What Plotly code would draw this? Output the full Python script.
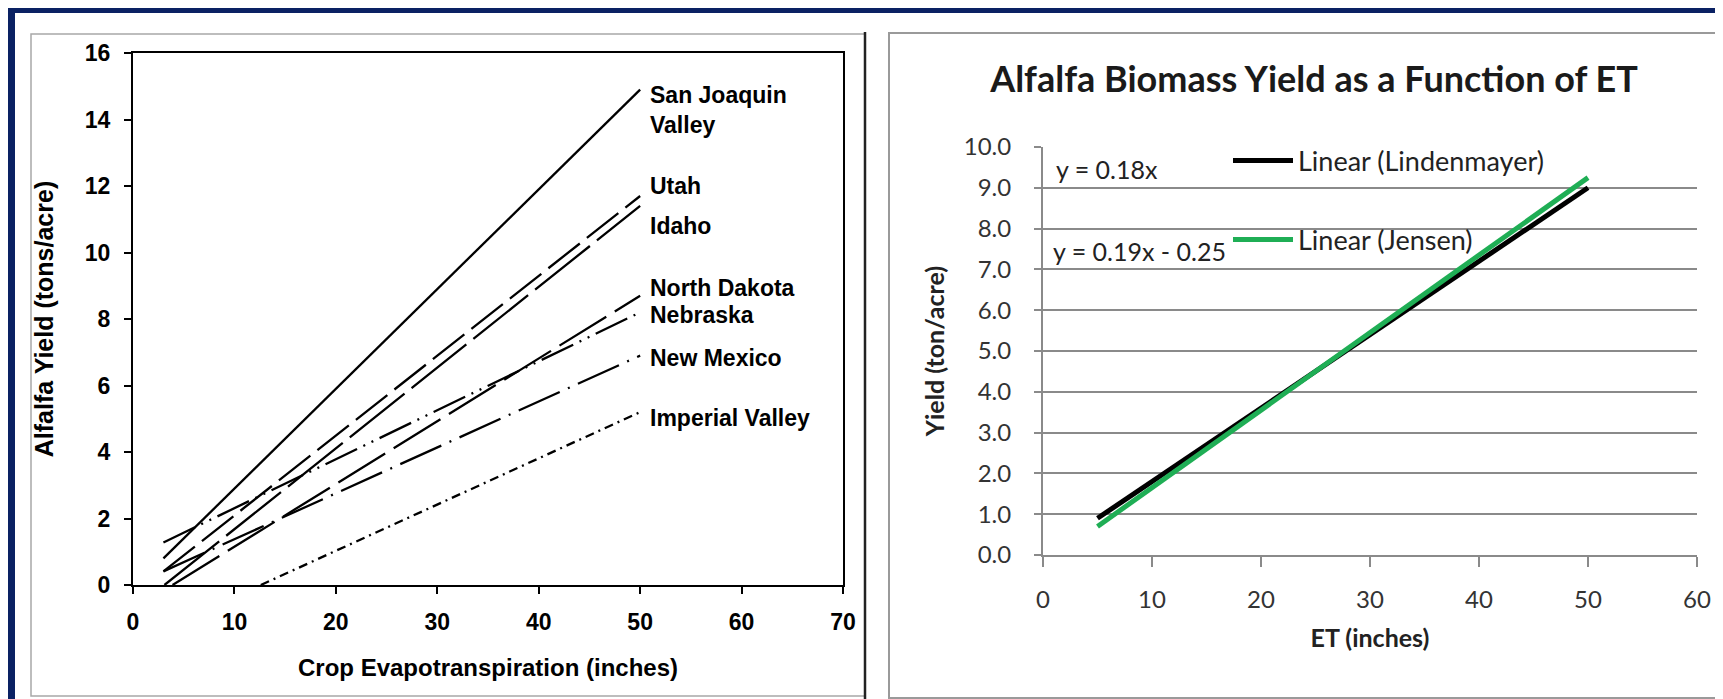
import plotly.graph_objects as go

W, H = 1723, 699

# ---------------- Left chart data (regional alfalfa yield vs ET) ----------------
regions = ["San Joaquin Valley", "Utah", "Idaho", "North Dakota", "Nebraska", "New Mexico", "Imperial Valley"]
region_labels = ["San Joaquin<br>Valley", "Utah", "Idaho", "North Dakota", "Nebraska", "New Mexico", "Imperial Valley"]
et_start = [3.0, 3.0, 3.1, 3.9, 3.0, 3.0, 12.6]
et_end = [50.0, 50.0, 50.0, 50.0, 50.0, 50.0, 50.0]
yield_start = [0.8, 0.41, 0.0, 0.0, 1.28, 0.41, 0.0]
yield_end = [14.9, 11.7, 11.4, 8.7, 8.2, 6.9, 5.2]
left_x_ticks = [0, 10, 20, 30, 40, 50, 60, 70]
left_y_ticks = [0, 2, 4, 6, 8, 10, 12, 14, 16]

# ---------------- Right chart data (linear fits) ----------------
et_fit = [5, 50]
lindenmayer = [0.9, 9.0]
jensen = [0.7, 9.25]
fit_names = ["Linear (Lindenmayer)", "Linear (Jensen)"]
fit_equations = ["y = 0.18x", "y = 0.19x - 0.25"]
right_x_ticks = [0, 10, 20, 30, 40, 50, 60]
right_y_ticks = [0, 1, 2, 3, 4, 5, 6, 7, 8, 9, 10]

# styles (kept separate from the data)
dash_styles = ["solid", "40px,9px", "70px,9px", "55px,10px",
               "35px,7px,2px,7px,2px,7px", "45px,9px,2px,9px", "9px,5px,2px,5px"]
label_y = [14.3, 12.0, 10.8, 8.93, 8.12, 6.83, 5.02]

NAVY = "#0a2163"
ARIAL = "Liberation Sans"
CAL = "Lato"


def px(x):
    return x / W


def py(y):
    return 1 - y / H


fig = go.Figure()

for i, name in enumerate(regions):
    fig.add_trace(go.Scatter(
        x=[et_start[i], et_end[i]], y=[yield_start[i], yield_end[i]],
        mode="lines", name=name, showlegend=False,
        line=dict(color="black", width=2.3, dash=dash_styles[i]),
        xaxis="x", yaxis="y"))

fig.add_trace(go.Scatter(
    x=et_fit, y=lindenmayer, mode="lines", name=fit_names[0],
    line=dict(color="black", width=5), xaxis="x2", yaxis="y2", legend="legend"))
fig.add_trace(go.Scatter(
    x=et_fit, y=jensen, mode="lines", name=fit_names[1],
    line=dict(color="#1fae55", width=5), xaxis="x2", yaxis="y2", legend="legend2"))

annotations = []
for i, lab in enumerate(region_labels):
    annotations.append(dict(
        x=50.8, y=label_y[i], xref="x", yref="y", text=lab, showarrow=False,
        xanchor="left", yanchor="middle", align="left",
        font=dict(family=ARIAL, size=23, color="black", weight="bold")))

annotations.append(dict(x=px(1046), y=py(161), xref="paper", yref="paper",
                        text=fit_equations[0], showarrow=False, xanchor="left", yanchor="middle",
                        font=dict(family=CAL, size=25, color="#222")))
annotations.append(dict(x=px(1043), y=py(243), xref="paper", yref="paper",
                        text=fit_equations[1], showarrow=False, xanchor="left", yanchor="middle",
                        font=dict(family=CAL, size=25, color="#222")))

shapes = [
    dict(type="rect", xref="paper", yref="paper", x0=px(7), x1=1.0, y0=0.0, y1=py(5),
         fillcolor="white", line=dict(width=0), layer="below"),
    dict(type="rect", xref="paper", yref="paper", x0=px(23), x1=px(857), y0=py(688), y1=py(26),
         fillcolor="rgba(0,0,0,0)", line=dict(color="#a8a8a8", width=1.5), layer="below"),
    dict(type="line", xref="paper", yref="paper", x0=px(857), x1=px(857), y0=py(692), y1=py(24),
         line=dict(color="#222", width=2.5), layer="below"),
    dict(type="rect", xref="paper", yref="paper", x0=px(881), x1=px(1721), y0=py(690), y1=py(25),
         fillcolor="rgba(0,0,0,0)", line=dict(color="#9a9a9a", width=2), layer="below"),
]

fig.update_layout(
    width=W, height=H,
    margin=dict(l=0, r=0, t=0, b=0, autoexpand=False),
    paper_bgcolor=NAVY, plot_bgcolor="white",
    title=dict(text="<b>Alfalfa Biomass Yield as a Function of ET</b>",
               x=px(1306), xanchor="center", y=py(71), yanchor="middle",
               xref="paper", yref="paper", automargin=False,
               font=dict(family=CAL, size=36, color="#1a1a1a")),
    xaxis=dict(domain=[px(125), px(835)], range=[0, 70], tickvals=left_x_ticks,
               ticks="outside", ticklen=7, tickwidth=2, tickcolor="black",
               showline=True, linecolor="black", linewidth=2, mirror=True,
               showgrid=False, zeroline=False, anchor="y", ticklabelstandoff=8,
               automargin=False,
               tickfont=dict(family=ARIAL, size=23, color="black", weight="bold"),
               title=dict(text="Crop Evapotranspiration (inches)", standoff=26,
                          font=dict(family=ARIAL, size=24, color="black", weight="bold"))),
    yaxis=dict(domain=[py(577), py(45)], range=[0, 16], tickvals=left_y_ticks,
               ticks="outside", ticklen=7, tickwidth=2, tickcolor="black",
               showline=True, linecolor="black", linewidth=2, mirror=True,
               showgrid=False, zeroline=False, anchor="x", ticklabelstandoff=9,
               automargin=False,
               tickfont=dict(family=ARIAL, size=23, color="black", weight="bold"),
               title=dict(text="Alfalfa Yield (tons/acre)", standoff=24,
                          font=dict(family=ARIAL, size=25, color="black", weight="bold"))),
    xaxis2=dict(domain=[px(1035), px(1689)], range=[0, 60], tickvals=right_x_ticks,
                ticks="outside", ticklen=10, tickwidth=2, tickcolor="#8a8a8a",
                showline=True, linecolor="#8a8a8a", linewidth=2,
                showgrid=False, zeroline=False, anchor="y2", ticklabelstandoff=12,
                automargin=False,
                tickfont=dict(family=CAL, size=24, color="#333"),
                title=dict(text="<b>ET (inches)</b>", standoff=18,
                           font=dict(family=CAL, size=25, color="#222"))),
    yaxis2=dict(domain=[py(547), py(139)], range=[0, 10], tickvals=right_y_ticks,
                tickformat=".1f",
                ticks="outside", ticklen=7, tickwidth=2, tickcolor="#8a8a8a",
                showline=True, linecolor="#8a8a8a", linewidth=2,
                showgrid=True, gridcolor="#8a8a8a", gridwidth=2,
                zeroline=False, anchor="x2", ticklabelstandoff=18,
                automargin=False,
                tickfont=dict(family=CAL, size=24, color="#333"),
                title=dict(text="<b>Yield (ton/acre)</b>", standoff=12,
                           font=dict(family=CAL, size=25, color="#222"))),
    legend=dict(x=px(1220), y=py(153), xanchor="left", yanchor="middle",
                bgcolor="rgba(0,0,0,0)", borderwidth=0, itemwidth=60,
                font=dict(family=CAL, size=27, color="#222")),
    legend2=dict(x=px(1220), y=py(232), xanchor="left", yanchor="middle",
                 bgcolor="rgba(0,0,0,0)", borderwidth=0, itemwidth=60,
                 font=dict(family=CAL, size=27, color="#222")),
    annotations=annotations,
    shapes=shapes,
)

fig.write_html("out.html")
